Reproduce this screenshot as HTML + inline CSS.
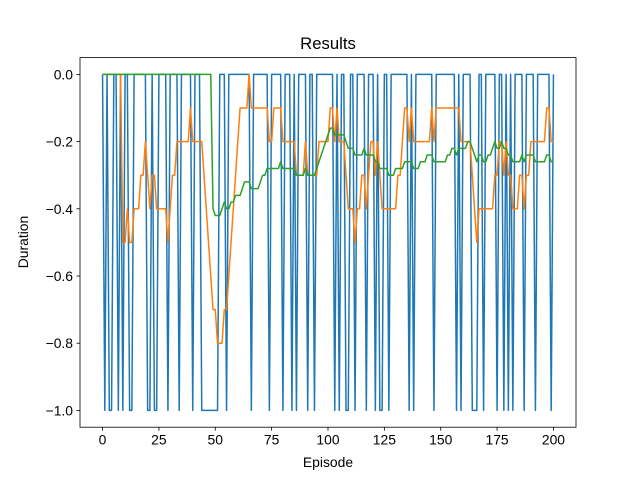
<!DOCTYPE html>
<html><head><meta charset="utf-8"><style>
body{margin:0;background:#fff;}
svg text{font-family:"Liberation Sans","DejaVu Sans",sans-serif;fill:#000;}
</style></head><body>
<svg id="chart" width="640" height="480" viewBox="0 0 640 480" xmlns="http://www.w3.org/2000/svg">
<rect width="640" height="480" fill="#fff"/>
<text x="328" y="49" font-size="16.7" text-anchor="middle">Results</text>
<text x="328" y="467" font-size="13.9" text-anchor="middle">Episode</text>
<text x="28" y="242" font-size="13.9" text-anchor="middle" transform="rotate(-90 28 242)">Duration</text>
<g id="ticks"></g>
<g id="series"></g>
<rect x="80" y="57.6" width="496" height="369.6" fill="none" stroke="#000" stroke-width="0.8"/>
</svg>
<script>
const xTicks = [0, 25, 50, 75, 100, 125, 150, 175, 200];
const yTicks = [0, -0.2, -0.4, -0.6, -0.8, -1.0];
const yTickLabels = ["0.0", "−0.2", "−0.4", "−0.6", "−0.8", "−1.0"];
const durations = [
0,-1,0,-1,-1,0,0,-1,0,-1, 0,0,-1,-1,0,0,0,0,0,0,
-1,-1,0,-1,-1,0,0,0,0,-1, 0,0,0,0,-1,0,0,0,0,0,
-1,0,0,0,-1,-1,-1,-1,-1,-1, -1,-1,0,0,0,-1,0,0,0,0,
0,0,0,0,0,0,-1,0,0,0, 0,0,0,0,-1,0,0,0,0,0,
-1,0,0,0,-1,0,-1,0,0,0, 0,-1,0,0,-1,0,0,0,0,0,
0,0,0,-1,0,-1,0,0,-1,-1, 0,0,-1,0,0,0,0,-1,0,0,
0,-1,0,-1,-1,0,0,-1,0,0, 0,0,0,0,0,0,-1,0,-1,0,
0,0,0,0,0,0,0,-1,0,0, 0,0,0,0,0,0,0,-1,0,-1,
0,0,0,0,-1,-1,-1,0,0,-1, 0,0,0,0,0,-1,0,0,-1,0,
-1,0,-1,0,0,0,0,-1,0,0, 0,0,-1,0,0,0,0,0,0,-1,
0];
const shortWindow = 10;
const longWindow = 50;

const X0 = 80, X1 = 576, Y0 = 57.6, Y1 = 427.2;
const xMin = -10, xMax = 210, yMin = -1.05, yMax = 0.05;
function xs(v){ return X0 + (v - xMin) / (xMax - xMin) * (X1 - X0); }
function ys(v){ return Y1 - (v - yMin) / (yMax - yMin) * (Y1 - Y0); }
function rolling(arr, w){
  const out = [];
  for (let i = 0; i < arr.length; i++){
    if (i < w - 1){ out.push(0); continue; }
    let s = 0; for (let j = i - w + 1; j <= i; j++) s += arr[j];
    out.push(s / w);
  }
  return out;
}
const NS = "http://www.w3.org/2000/svg";
const tg = document.getElementById('ticks');
xTicks.forEach(t => {
  const l = document.createElementNS(NS, 'line');
  l.setAttribute('x1', xs(t)); l.setAttribute('x2', xs(t));
  l.setAttribute('y1', Y1); l.setAttribute('y2', Y1 + 3.5);
  l.setAttribute('stroke', '#000'); l.setAttribute('stroke-width', '0.8');
  
  
  tg.appendChild(l);
  const tx = document.createElementNS(NS, 'text');
  tx.setAttribute('x', xs(t)); tx.setAttribute('y', Y1 + 17.5);
  tx.setAttribute('font-size', '13.9'); tx.setAttribute('text-anchor', 'middle');
  tx.textContent = String(t);
  
  
  tg.appendChild(tx);
});
yTicks.forEach((t, i) => {
  const l = document.createElementNS(NS, 'line');
  l.setAttribute('x1', X0 - 3.5); l.setAttribute('x2', X0);
  l.setAttribute('y1', ys(t)); l.setAttribute('y2', ys(t));
  l.setAttribute('stroke', '#000'); l.setAttribute('stroke-width', '0.8');
  
  
  tg.appendChild(l);
  const tx = document.createElementNS(NS, 'text');
  tx.setAttribute('x', X0 - 7); tx.setAttribute('y', ys(t) + 5);
  tx.setAttribute('font-size', '13.9'); tx.setAttribute('text-anchor', 'end');
  tx.textContent = yTickLabels[i];
  
  
  tg.appendChild(tx);
});
const sg = document.getElementById('series');
function drawLine(vals, color, name){
  const p = document.createElementNS(NS, 'polyline');
  p.setAttribute('points', vals.map((v, i) => xs(i).toFixed(2) + ',' + ys(v).toFixed(2)).join(' '));
  p.setAttribute('fill', 'none'); p.setAttribute('stroke', color);
  p.setAttribute('stroke-width', '1.5'); p.setAttribute('stroke-linejoin', 'round');
  
  
  sg.appendChild(p);
}
drawLine(durations, '#1f77b4', 'duration-line');
drawLine(rolling(durations, shortWindow), '#ff7f0e', 'short-average-line');
drawLine(rolling(durations, longWindow), '#2ca02c', 'long-average-line');
</script>
</body></html>
